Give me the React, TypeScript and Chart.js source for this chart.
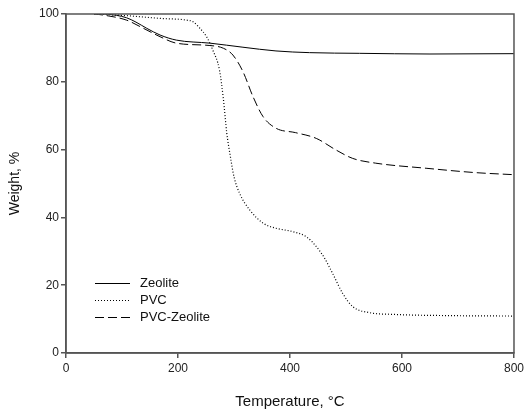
import React, { useEffect, useRef } from "react";
import { Chart, registerables } from "chart.js";

Chart.register(...registerables);

const zeoliteT = [50, 66, 90, 108, 125, 144, 168, 197, 257, 316, 375, 435, 524, 650, 800];
const zeoliteW = [100, 100, 99.6, 98.9, 97.6, 95.8, 93.8, 92.3, 91.4, 90.2, 89.1, 88.6, 88.4, 88.2, 88.3];

const pvcT = [50, 100, 168, 215, 227, 239, 251, 262, 274, 281, 287, 293, 300, 310, 328, 352, 375, 405, 429, 447, 462, 476, 494, 512, 542, 583, 700, 800];
const pvcW = [100, 99.6, 98.7, 98.2, 97.7, 95.8, 93.3, 89.4, 83.5, 75, 65, 58.5, 52, 47.1, 42.2, 38.3, 36.8, 35.8, 34.3, 31.4, 27.9, 23.5, 17.6, 13.7, 11.9, 11.4, 11.0, 10.9];

const pvcZeoT = [50, 66, 108, 138, 168, 197, 257, 281, 298, 316, 334, 352, 375, 410, 447, 482, 512, 553, 643, 732, 800];
const pvcZeoW = [100, 99.7, 98.2, 95.8, 93.3, 91.4, 90.7, 89.9, 87.9, 83.0, 75.6, 69.7, 66.3, 65.0, 63.3, 59.9, 57.4, 56.0, 54.5, 53.2, 52.6];

const seriesLabels = ["Zeolite", "PVC", "PVC-Zeolite"];
const xTicks = [0, 200, 400, 600, 800];
const yTicks = [0, 20, 40, 60, 80, 100];

const FONT = "Arial, 'Liberation Sans', sans-serif";

const toPts = (xs: number[], ys: number[]) => xs.map((x, i) => ({ x, y: ys[i] }));

const framePlugin = {
  id: "frame",
  afterDraw(chart: any) {
    const { ctx, chartArea } = chart;
    ctx.save();
    ctx.strokeStyle = "#555";
    ctx.lineWidth = 1.5;
    ctx.strokeRect(chartArea.left, chartArea.top, chartArea.right - chartArea.left, chartArea.bottom - chartArea.top);
    // legend
    const ds = chart.data.datasets;
    const x0 = chartArea.left + 29;
    const x1 = chartArea.left + 64;
    const tx = chartArea.left + 74;
    const ys = [283, 300, 317];
    ctx.font = "13px " + FONT;
    ctx.textBaseline = "middle";
    ds.forEach((d: any, i: number) => {
      ctx.beginPath();
      ctx.setLineDash(d.borderDash || []);
      ctx.strokeStyle = d.borderColor;
      ctx.lineWidth = d.borderWidth;
      ctx.moveTo(x0, ys[i] + 0.5);
      ctx.lineTo(x1, ys[i] + 0.5);
      ctx.stroke();
      ctx.setLineDash([]);
      ctx.fillStyle = "#111";
      ctx.fillText(d.label, tx, ys[i]);
    });
    ctx.restore();
  },
};

export default function App() {
  const ref = useRef<HTMLCanvasElement | null>(null);
  useEffect(() => {
    document.body.style.margin = "0";
    const chart = new Chart(ref.current as HTMLCanvasElement, {
      type: "line",
      data: {
        datasets: [
          { label: seriesLabels[0], data: toPts(zeoliteT, zeoliteW), borderColor: "#000", borderWidth: 1, borderDash: [], pointRadius: 0, cubicInterpolationMode: "monotone", fill: false },
          { label: seriesLabels[1], data: toPts(pvcT, pvcW), borderColor: "#000", borderWidth: 1.2, borderDash: [1, 2], pointRadius: 0, cubicInterpolationMode: "monotone", fill: false },
          { label: seriesLabels[2], data: toPts(pvcZeoT, pvcZeoW), borderColor: "#000", borderWidth: 1, borderDash: [9, 4], pointRadius: 0, cubicInterpolationMode: "monotone", fill: false },
        ],
      },
      options: {
        animation: false,
        responsive: false,
        devicePixelRatio: 1,
        layout: { padding: { top: 14, right: 12, left: 0, bottom: 0 } },
        plugins: { legend: { display: false }, tooltip: { enabled: false } },
        scales: {
          x: {
            type: "linear",
            min: 0,
            max: 800,
            afterBuildTicks: (s: any) => { s.ticks = xTicks.map((v) => ({ value: v })); },
            afterFit: (s: any) => { s.height = 63; },
            grid: { drawOnChartArea: false, tickLength: 5, color: "#555", lineWidth: 1.5 },
            border: { color: "#555", width: 1.5 },
            ticks: { color: "#222", font: { size: 12, family: FONT }, padding: 3, maxRotation: 0 },
            title: { display: true, text: "Temperature, °C", color: "#111", font: { size: 15, family: FONT }, padding: { top: 0, bottom: 5 } },
          },
          y: {
            type: "linear",
            min: 0,
            max: 100,
            afterBuildTicks: (s: any) => { s.ticks = yTicks.map((v) => ({ value: v })); },
            afterFit: (s: any) => { s.width = 66; },
            grid: { drawOnChartArea: false, tickLength: 5, color: "#555", lineWidth: 1.5 },
            border: { color: "#555", width: 1.5 },
            ticks: { color: "#222", font: { size: 12, family: FONT }, padding: 2 },
            title: { display: true, text: "Weight, %", color: "#111", font: { size: 14, family: FONT }, padding: { top: 7, bottom: 0 } },
          },
        },
      },
      plugins: [framePlugin],
    } as any);
    return () => chart.destroy();
  }, []);
  return <canvas ref={ref} width={527} height={416} style={{ display: "block" }} />;
}
